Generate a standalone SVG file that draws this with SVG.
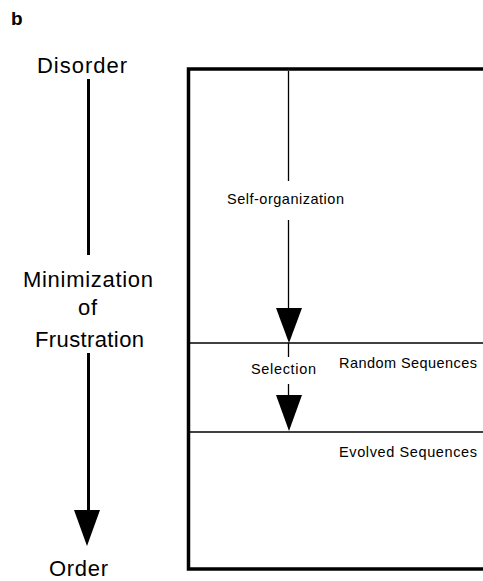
<svg xmlns="http://www.w3.org/2000/svg" width="483" height="581" viewBox="0 0 483 581">
<style>
text{font-family:"Liberation Sans",Arial,sans-serif;fill:#000}
.big{font-size:22px}
.sm{font-size:14.5px}
.frame{stroke:#000;stroke-width:3.5;fill:none}
.thin{stroke:#000;stroke-width:1.3;fill:none}
.thick{stroke:#000;stroke-width:3;fill:none}
.head{fill:#000;stroke:none}
</style>
<rect width="483" height="581" fill="#fff"/>
<text x="11" y="25" font-size="19" font-weight="bold">b</text>
<g id="disorder"><text class="big" x="37" y="73" textLength="90" lengthAdjust="spacing">Disorder</text></g>
<g id="minimization">
<text class="big" x="23" y="287" textLength="130" lengthAdjust="spacing">Minimization</text>
<text class="big" x="78" y="315" textLength="19" lengthAdjust="spacing">of</text>
<text class="big" x="35" y="347" textLength="109" lengthAdjust="spacing">Frustration</text>
</g>
<g id="order"><text class="big" x="49" y="576" textLength="59" lengthAdjust="spacing">Order</text></g>
<g id="box">
<path class="frame" d="M483 69 H188.5 V569 H483"/>
</g>
<g id="random">
<line class="thin" x1="188" y1="343" x2="483" y2="343"/>
<text class="sm" x="339" y="368" textLength="138" lengthAdjust="spacing">Random Sequences</text>
</g>
<g id="evolved">
<line class="thin" x1="188" y1="432" x2="483" y2="432"/>
<text class="sm" x="339" y="457" textLength="138" lengthAdjust="spacing">Evolved Sequences</text>
</g>
<g id="labels">
<text class="sm" x="227" y="204" textLength="117" lengthAdjust="spacing">Self-organization</text>
<text class="sm" x="251" y="374" textLength="65" lengthAdjust="spacing">Selection</text>
</g>
<g id="connectors">
<line class="thick" x1="88.5" y1="79" x2="88.5" y2="255"/>
<line class="thick" x1="88.5" y1="353" x2="88.5" y2="512"/>
<polygon class="head" points="74,510 100,510 87,546"/>
<line class="thin" x1="288.5" y1="71" x2="288.5" y2="181"/>
<line class="thin" x1="288.5" y1="220" x2="288.5" y2="310"/>
<polygon class="head" points="276,308 302,308 289,343"/>
<line class="thin" x1="288.5" y1="343" x2="288.5" y2="357"/>
<line class="thin" x1="288.5" y1="384" x2="288.5" y2="397"/>
<polygon class="head" points="276,395 302,395 289,431"/>
</g>
</svg>
